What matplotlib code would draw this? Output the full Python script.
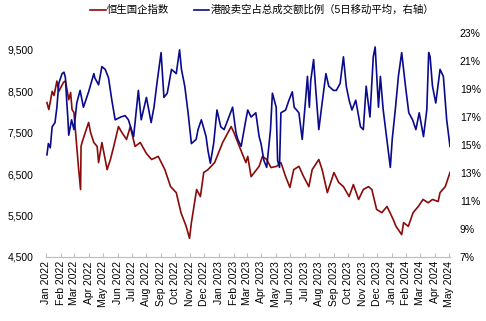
import pandas as pd
import matplotlib
matplotlib.use("Agg")
import matplotlib.pyplot as plt
import matplotlib.dates as mdates
from matplotlib.ticker import FuncFormatter

plt.rcParams['font.family'] = ['Liberation Sans', 'Noto Sans CJK SC']

# 恒生国企指数 (left axis)
hscei_dates = [
    "2022-01-03", "2022-01-07", "2022-01-14", "2022-01-18", "2022-01-24", "2022-01-28",
    "2022-02-07", "2022-02-11", "2022-02-15", "2022-02-18", "2022-02-22", "2022-02-25",
    "2022-03-01", "2022-03-08", "2022-03-11", "2022-03-15", "2022-03-16", "2022-03-18",
    "2022-03-25", "2022-04-01", "2022-04-05", "2022-04-12", "2022-04-19", "2022-04-22",
    "2022-04-29", "2022-05-06", "2022-05-10", "2022-05-17", "2022-05-24", "2022-06-03",
    "2022-06-10", "2022-06-20", "2022-06-28", "2022-07-08", "2022-07-19", "2022-08-01",
    "2022-08-12", "2022-08-26", "2022-09-09", "2022-09-21", "2022-10-03", "2022-10-13",
    "2022-10-24", "2022-10-31", "2022-11-04", "2022-11-15", "2022-11-23", "2022-11-30",
    "2022-12-09", "2022-12-23", "2023-01-09", "2023-01-27", "2023-02-02", "2023-02-10",
    "2023-02-27", "2023-03-03", "2023-03-10", "2023-03-27", "2023-04-03", "2023-04-12",
    "2023-04-21", "2023-05-03", "2023-05-12", "2023-05-22", "2023-05-31", "2023-06-08",
    "2023-06-19", "2023-06-29", "2023-07-10", "2023-07-17", "2023-07-31", "2023-08-07",
    "2023-08-18", "2023-09-01", "2023-09-11", "2023-09-21", "2023-10-03", "2023-10-12",
    "2023-10-23", "2023-11-02", "2023-11-13", "2023-11-20", "2023-11-30", "2023-12-11",
    "2023-12-22", "2024-01-04", "2024-01-10", "2024-01-22", "2024-01-26", "2024-02-05",
    "2024-02-15", "2024-02-26", "2024-03-07", "2024-03-18", "2024-03-27", "2024-04-08",
    "2024-04-12", "2024-04-23", "2024-05-03",
]
hscei_values = [
    8230, 8060, 8500, 8400, 8750, 8500,
    8720, 8750, 8500, 8300, 8470, 8060,
    7990, 7020, 6610, 6130, 7170, 7265,
    7510, 7750, 7510, 7265, 7170, 6780,
    7265, 6855, 6610, 6855, 7170, 7650,
    7510, 7340, 7650, 7170, 7265, 7000,
    6855, 6930, 6610, 6200, 6055, 5570,
    5240, 4950, 5330, 6130, 5960, 6540,
    6610, 6780, 7265, 7650, 7500, 7265,
    6780, 6930, 6440, 6690, 6930, 6855,
    6660, 6690, 6780, 6440, 6180, 6610,
    6690, 6440, 6200, 6610, 6855, 6610,
    6055, 6540, 6300, 6200, 5960, 6250,
    5890, 6130, 6200, 6130, 5650, 5570,
    5720, 5410, 5240, 5040, 5330, 5240,
    5570, 5720, 5890, 5810, 5890, 5840,
    6055, 6200, 6540,
]

# 港股卖空占总成交额比例 (5日移动平均, right axis, %)
short_dates = [
    "2022-01-03", "2022-01-06", "2022-01-10", "2022-01-14", "2022-01-20", "2022-01-24",
    "2022-01-28", "2022-02-04", "2022-02-08", "2022-02-11", "2022-02-14", "2022-02-16",
    "2022-02-18", "2022-02-24", "2022-03-01", "2022-03-07", "2022-03-14", "2022-03-21",
    "2022-04-01", "2022-04-12", "2022-04-14", "2022-04-22", "2022-04-29", "2022-05-06",
    "2022-05-13", "2022-05-20", "2022-05-27", "2022-06-08", "2022-06-17", "2022-06-24",
    "2022-07-05", "2022-07-15", "2022-07-21", "2022-08-01", "2022-08-11", "2022-08-17",
    "2022-08-24", "2022-09-01", "2022-09-07", "2022-09-14", "2022-09-23", "2022-10-03",
    "2022-10-10", "2022-10-14", "2022-10-21", "2022-10-28", "2022-11-04", "2022-11-14",
    "2022-11-18", "2022-11-25", "2022-12-05", "2022-12-09", "2022-12-14", "2022-12-21",
    "2022-12-28", "2023-01-05", "2023-01-12", "2023-01-20", "2023-01-30", "2023-02-06",
    "2023-02-10", "2023-02-17", "2023-02-27", "2023-03-03", "2023-03-10", "2023-03-20",
    "2023-03-27", "2023-03-31", "2023-04-06", "2023-04-12", "2023-04-20", "2023-04-24",
    "2023-05-02", "2023-05-05", "2023-05-09", "2023-05-12", "2023-05-22", "2023-05-29",
    "2023-06-05", "2023-06-09", "2023-06-19", "2023-06-26", "2023-07-03", "2023-07-07",
    "2023-07-11", "2023-07-14", "2023-07-20", "2023-07-24", "2023-07-31", "2023-08-07",
    "2023-08-15", "2023-08-21", "2023-08-31", "2023-09-06", "2023-09-14", "2023-09-21",
    "2023-09-27", "2023-10-03", "2023-10-09", "2023-10-17", "2023-10-27", "2023-11-02",
    "2023-11-08", "2023-11-16", "2023-11-23", "2023-11-27", "2023-12-04", "2023-12-08",
    "2023-12-14", "2023-12-21", "2023-12-29", "2024-01-02", "2024-01-09", "2024-01-15",
    "2024-01-22", "2024-01-30", "2024-02-06", "2024-02-14", "2024-02-21", "2024-02-28",
    "2024-03-08", "2024-03-15", "2024-03-19", "2024-03-22", "2024-03-27", "2024-04-03",
    "2024-04-12", "2024-04-19", "2024-04-26", "2024-05-03",
]
short_pct = [
    14.3, 15.1, 14.8, 16.3, 16.6, 17.7,
    19.4, 20.1, 20.2, 19.8, 18.0, 17.0,
    15.7, 16.8, 16.1, 18.0, 18.9, 17.7,
    18.8, 20.1, 19.8, 19.3, 20.6, 20.4,
    19.8, 18.2, 16.8, 17.0, 17.1, 16.8,
    15.6, 18.9, 16.8, 18.4, 16.6, 17.7,
    19.6, 21.6, 18.4, 18.7, 20.4, 20.1,
    21.8, 20.4, 19.2, 17.3, 15.1, 15.4,
    16.1, 16.8, 15.6, 14.6, 13.7, 15.1,
    17.5, 16.3, 16.1, 16.8, 17.7, 15.9,
    15.4, 14.9, 16.8, 17.5, 17.0, 17.3,
    15.6, 15.1, 13.9, 13.4, 16.1, 18.7,
    17.7, 13.9, 13.4, 17.3, 17.5, 18.2,
    18.8, 17.7, 17.3, 15.4, 18.2, 19.9,
    17.7, 19.6, 21.1, 19.2, 16.1, 18.0,
    20.1, 19.2, 18.9, 18.9, 19.4, 21.3,
    19.2, 18.2, 17.5, 18.2, 16.3, 16.1,
    19.2, 17.0, 21.3, 22.0, 17.7, 19.9,
    17.5, 15.6, 13.4, 15.4, 17.7, 19.9,
    21.6, 19.2, 17.3, 16.8, 16.1, 17.3,
    15.6, 17.5, 21.6, 21.3, 19.2, 18.0,
    20.4, 19.9, 16.8, 14.9,
]

red = '#8B0A0A'
blue = '#0A0A8C'

fig = plt.figure(figsize=(4.86, 3.21), dpi=100)
ax = fig.add_axes([46 / 486, 64 / 321, 404 / 486, 224 / 321])
ax2 = ax.twinx()

l1, = ax.plot(pd.to_datetime(hscei_dates), hscei_values, color=red, lw=1.2)
l2, = ax2.plot(pd.to_datetime(short_dates), [v / 100 for v in short_pct], color=blue, lw=1.2)

ax.set_xlim(pd.Timestamp("2022-01-01"), pd.Timestamp("2024-05-03"))
ax.set_ylim(4500, 9910)
ax.set_yticks([4500, 5500, 6500, 7500, 8500, 9500])
ax.yaxis.set_major_formatter(FuncFormatter(lambda v, p: f"{v:,.0f}"))
ax2.set_ylim(0.07, 0.23)
ax2.set_yticks([0.07, 0.09, 0.11, 0.13, 0.15, 0.17, 0.19, 0.21, 0.23])
ax2.yaxis.set_major_formatter(FuncFormatter(lambda v, p: f"{v * 100:.0f}%"))

ax.xaxis.set_major_locator(mdates.MonthLocator())
ax.xaxis.set_major_formatter(mdates.DateFormatter('%b %Y'))
ax.tick_params(axis='x', rotation=90, labelsize=7.5, direction='in', length=3,
               color='#BFBFBF', pad=3)
ax.tick_params(axis='y', length=0, labelsize=7.5, pad=9)
ax2.tick_params(axis='y', length=0, labelsize=7.5, pad=7)

for a in (ax, ax2):
    for s in ('top', 'left', 'right'):
        a.spines[s].set_visible(False)
    a.spines['bottom'].set_color('#BFBFBF')

fig.legend([l1, l2], ['恒生国企指数', '港股卖空占总成交额比例（5日移动平均，右轴）'],
           loc='center', bbox_to_anchor=(262 / 486, 1 - 10 / 321), ncol=2, frameon=False,
           fontsize=7.5, handlelength=1.5, handletextpad=0.1, columnspacing=2.4)

fig.savefig("out.png", dpi=100)
